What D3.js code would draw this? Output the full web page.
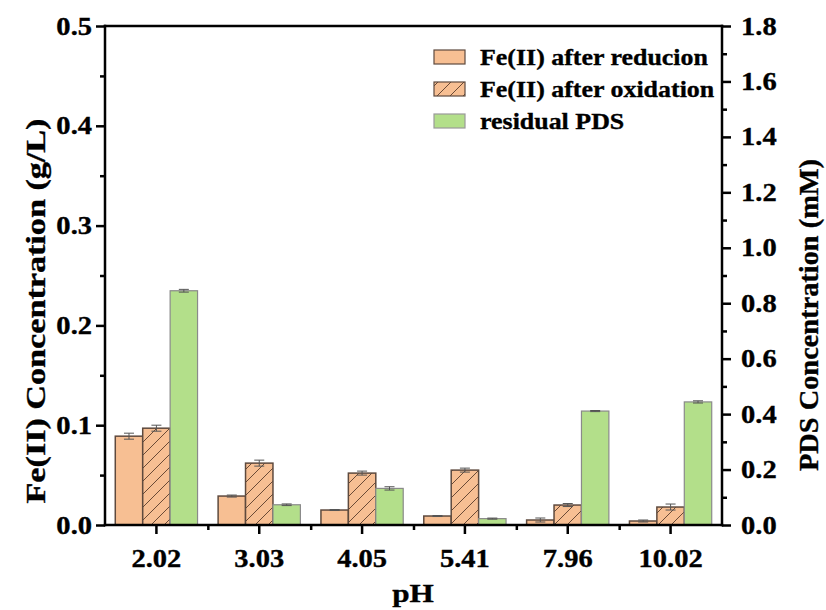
<!DOCTYPE html>
<html><head><meta charset="utf-8">
<script src="https://cdn.jsdelivr.net/npm/d3@7"></script>
<style>body{margin:0;background:#fff}svg{display:block}text{font-family:"Liberation Serif","Times New Roman",serif;font-weight:bold;fill:#000;stroke:#000;stroke-width:0.35px}</style>
</head><body><svg id="c" width="826" height="610"></svg>
<script>
const categories = ["2.02","3.03","4.05","5.41","7.96","10.02"];
const feReduction = [0.089,0.029,0.015,0.009,0.005,0.004];
const feReductionErr = [0.003,0.001,0.0005,0.0005,0.002,0.001];
const feOxidation = [0.097,0.062,0.052,0.055,0.020,0.018];
const feOxidationErr = [0.003,0.003,0.002,0.002,0.0015,0.003];
const residualPDS = [0.845,0.073,0.132,0.023,0.411,0.444];
const residualPDSErr = [0.005,0.003,0.006,0.002,0.002,0.004];
const leftTicks = [0,0.1,0.2,0.3,0.4,0.5];
const rightTicks = [0,0.2,0.4,0.6,0.8,1.0,1.2,1.4,1.6,1.8];
const seriesNames = ["Fe(II) after reducion","Fe(II) after oxidation","residual PDS"];

const L=105,R=722,T=26,B=525;
const svg=d3.select("#c");
const defs=svg.append("defs");
const pat=defs.append("pattern").attr("id","hatch").attr("patternUnits","userSpaceOnUse").attr("width",13).attr("height",13);
pat.append("rect").attr("width",13).attr("height",13).attr("fill","#F7BF93");
pat.append("path").attr("d","M0,13 L13,0 M-3,3 L3,-3 M10,16 L16,10").attr("stroke","#6a4a36").attr("stroke-width",1);

function stretch(sel,k){sel.each(function(){const w=this.getComputedTextLength();d3.select(this).attr("textLength",w*k).attr("lengthAdjust","spacingAndGlyphs");});}
function fitLen(sel,len){sel.attr("textLength",len).attr("lengthAdjust","spacingAndGlyphs");}

const x=d3.scaleBand().domain(categories).range([L,R]).paddingInner(0).paddingOuter(0);
const x1=d3.scaleBand().domain([0,1,2]).range([x.bandwidth()*0.1,x.bandwidth()*0.9]);
const yL=d3.scaleLinear().domain([0,0.5]).range([B,T]);
const yR=d3.scaleLinear().domain([0,1.8]).range([B,T]);

const series=[
 {vals:feReduction,err:feReductionErr,y:yL,fill:"#F7BF93",stroke:"#5e4a3e",sw:1.5},
 {vals:feOxidation,err:feOxidationErr,y:yL,fill:"url(#hatch)",stroke:"#5e4a3e",sw:1.5},
 {vals:residualPDS,err:residualPDSErr,y:yR,fill:"#B3DF8A",stroke:"#8a8a8a",sw:1.2}
];
series.forEach((s,si)=>{
  const g=svg.append("g");
  categories.forEach((c,i)=>{
    const x0=x(c)+x1(si), w=x1.bandwidth(), v=s.vals[i];
    g.append("rect").attr("x",x0).attr("y",s.y(v)).attr("width",w).attr("height",B-s.y(v))
      .attr("fill",s.fill).attr("stroke",s.stroke).attr("stroke-width",s.sw);
    const cx=x0+w/2, e=s.err[i];
    const eb=g.append("g").attr("stroke","#555").attr("stroke-width",1);
    eb.append("line").attr("x1",cx).attr("x2",cx).attr("y1",s.y(v+e)).attr("y2",s.y(v-e));
    eb.append("line").attr("x1",cx-5).attr("x2",cx+5).attr("y1",s.y(v+e)).attr("y2",s.y(v+e));
    eb.append("line").attr("x1",cx-5).attr("x2",cx+5).attr("y1",s.y(v-e)).attr("y2",s.y(v-e));
  });
});

// axes
const fmt=d3.format(".1f");
const FS=25, K=1.14;
function styleAxis(g){g.select(".domain").remove();g.selectAll("line").attr("stroke","#000").attr("stroke-width",2.5);g.selectAll("text").attr("font-size",FS).attr("font-family","Liberation Serif").attr("font-weight","bold");stretch(g.selectAll("text"),K);}
const minorL=d3.range(0.05,0.5,0.1);
svg.append("g").attr("transform",`translate(${L},0)`).call(d3.axisLeft(yL).tickValues(minorL).tickSize(5).tickFormat("")).call(styleAxis);
svg.append("g").attr("transform",`translate(${L},0)`).call(d3.axisLeft(yL).tickValues(leftTicks).tickSize(9).tickPadding(4).tickFormat(fmt)).call(styleAxis);
const minorR=d3.range(0.1,1.8,0.2);
svg.append("g").attr("transform",`translate(${R},0)`).call(d3.axisRight(yR).tickValues(minorR).tickSize(5).tickFormat("")).call(styleAxis);
svg.append("g").attr("transform",`translate(${R},0)`).call(d3.axisRight(yR).tickValues(rightTicks).tickSize(9).tickPadding(10).tickFormat(fmt)).call(styleAxis);
svg.append("g").attr("transform",`translate(0,${B})`).call(d3.axisBottom(x).tickSize(9).tickPadding(15)).call(styleAxis);
const xm=d3.scaleLinear().domain([0,6]).range([L,R]);
svg.append("g").attr("transform",`translate(0,${B})`).call(d3.axisBottom(xm).tickValues([1,2,3,4,5]).tickSize(5).tickFormat("")).call(styleAxis);
// frame lines
const fr=svg.append("g").attr("stroke","#000").attr("stroke-width",2.5).attr("stroke-linecap","square");
fr.append("line").attr("x1",L).attr("x2",L).attr("y1",T).attr("y2",B);
fr.append("line").attr("x1",R).attr("x2",R).attr("y1",T).attr("y2",B);
fr.append("line").attr("x1",L).attr("x2",R).attr("y1",B).attr("y2",B);
fr.append("line").attr("x1",L).attr("x2",R).attr("y1",T).attr("y2",T);

// titles
svg.append("text").attr("x",413).attr("y",602).attr("text-anchor","middle").attr("font-size",26).text("pH").call(stretch,1.2);
svg.append("text").attr("transform","translate(45,311) rotate(-90)").attr("text-anchor","middle").attr("font-size",27).text("Fe(II) Concentration (g/L)").call(fitLen,385);
svg.append("text").attr("transform","translate(818,315) rotate(-90)").attr("text-anchor","middle").attr("font-size",27).text("PDS Concentration (mM)").call(fitLen,312);

// legend
const lg=svg.append("g");
const lf=["#F7BF93","url(#hatch)","#B3DF8A"], ls=["#5e4a3e","#5e4a3e","#9a9a9a"];
seriesNames.forEach((n,i)=>{
  const yy=57+i*32;
  lg.append("rect").attr("x",434).attr("y",yy-7).attr("width",31).attr("height",14).attr("fill",lf[i]).attr("stroke",ls[i]).attr("stroke-width",1.2);
  lg.append("text").attr("x",480).attr("y",yy+8).attr("font-size",24).text(n).call(stretch,1.08);
});
</script></body></html>
